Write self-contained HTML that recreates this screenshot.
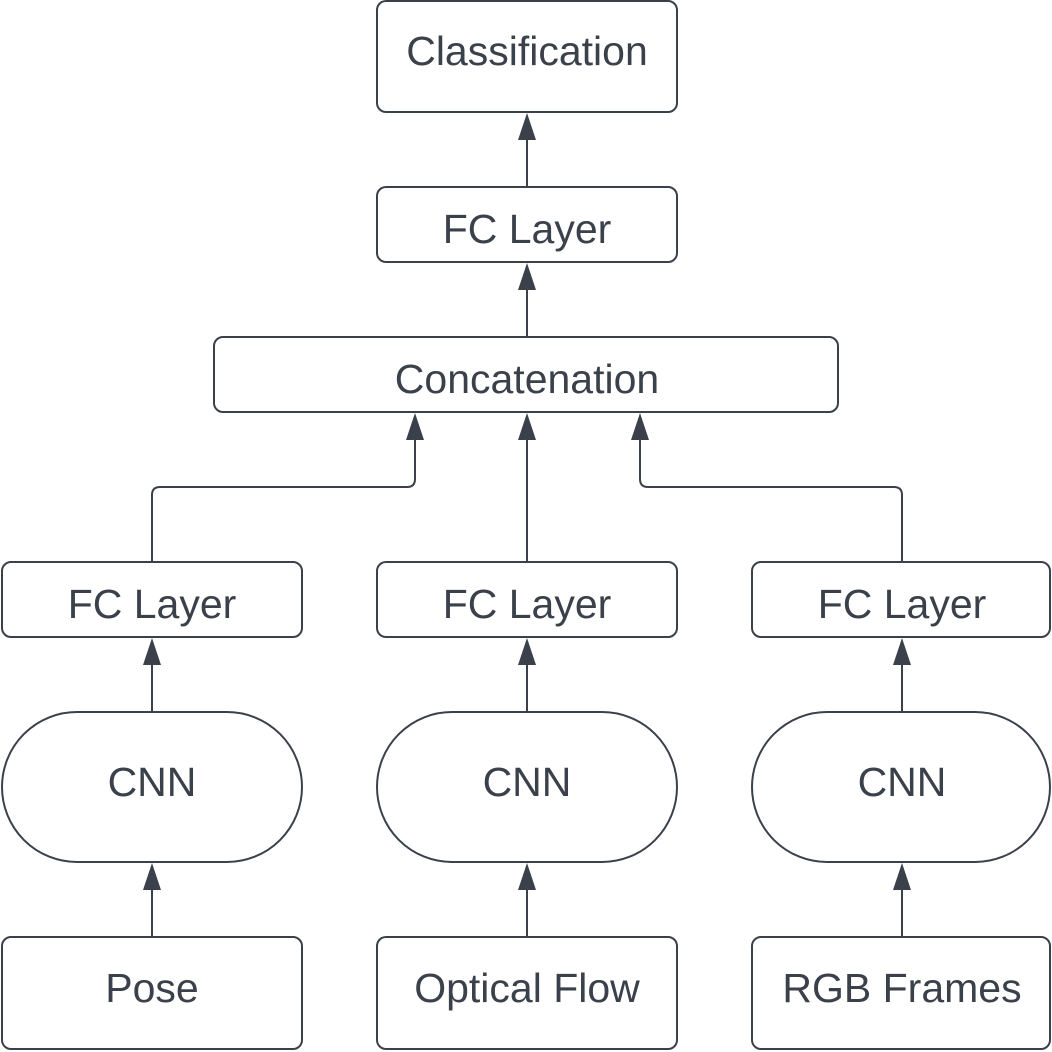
<!DOCTYPE html>
<html><head><style>
html,body{margin:0;padding:0;background:#fff;}
svg{display:block;}
text{font-family:"Liberation Sans",sans-serif;font-size:41px;fill:#3a414a;text-anchor:middle;dominant-baseline:central;}
</style></head><body>
<svg width="1052" height="1052" viewBox="0 0 1052 1052">
<g fill="#fff" stroke="#3a414a" stroke-width="2">
<rect x="377" y="1" width="300" height="111" rx="9"/>
<rect x="377" y="187" width="300" height="75" rx="9"/>
<rect x="214" y="337" width="624" height="75" rx="9"/>
<rect x="2" y="562" width="300" height="75" rx="9"/>
<rect x="377" y="562" width="300" height="75" rx="9"/>
<rect x="752" y="562" width="298" height="75" rx="9"/>
<rect x="2" y="712" width="300" height="150" rx="75"/>
<rect x="377" y="712" width="300" height="150" rx="75"/>
<rect x="752" y="712" width="298" height="150" rx="75"/>
<rect x="2" y="937" width="300" height="112" rx="9"/>
<rect x="377" y="937" width="300" height="112" rx="9"/>
<rect x="752" y="937" width="298" height="112" rx="9"/>
</g>
<g fill="none" stroke="#3a414a" stroke-width="2">
<path d="M527 187V130"/>
<path d="M527 337V280"/>
<path d="M152 562V495q0-8 8-8H407q8 0 8-8V430"/>
<path d="M527 562V430"/>
<path d="M902 562V495q0-8-8-8H648q-8 0-8-8V430"/>
<path d="M152 712V655"/><path d="M527 712V655"/><path d="M902 712V655"/>
<path d="M152 937V880"/><path d="M527 937V880"/><path d="M902 937V880"/>
</g>
<g fill="#3a414a">
<path d="M527 113l-9 27h18z"/>
<path d="M527 263l-9 27h18z"/>
<path d="M415 413l-9 27h18z"/>
<path d="M527 413l-9 27h18z"/>
<path d="M640 413l-9 27h18z"/>
<path d="M152 638l-9 27h18z"/>
<path d="M527 638l-9 27h18z"/>
<path d="M902 638l-9 27h18z"/>
<path d="M152 863l-9 27h18z"/>
<path d="M527 863l-9 27h18z"/>
<path d="M902 863l-9 27h18z"/>
</g>
<text x="527" y="51">Classification</text>
<text x="527" y="229">FC Layer</text>
<text x="527" y="379">Concatenation</text>
<text x="152" y="604">FC Layer</text>
<text x="527" y="604">FC Layer</text>
<text x="902" y="604">FC Layer</text>
<text x="152" y="782">CNN</text>
<text x="527" y="782">CNN</text>
<text x="902" y="782">CNN</text>
<text x="152" y="988">Pose</text>
<text x="527" y="988">Optical Flow</text>
<text x="902" y="988">RGB Frames</text>
</svg>
</body></html>
